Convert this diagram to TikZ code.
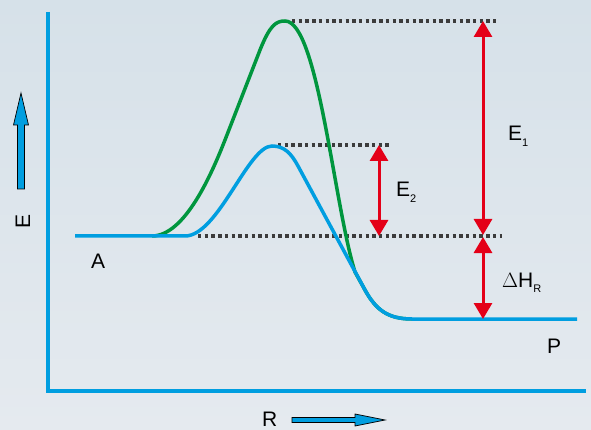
\documentclass[tikz,border=0pt]{standalone}
\usepackage{fontspec}
\setmainfont{Liberation Sans}
\usetikzlibrary{arrows.meta}
\definecolor{axisblue}{RGB}{0,158,224}
\definecolor{hillgreen}{RGB}{0,150,62}
\definecolor{gapred}{RGB}{228,0,24}
\definecolor{dotgray}{RGB}{60,60,60}
\newcommand{\lowidx}[1]{\raisebox{-0.5ex}{\fontsize{11}{11}\selectfont #1}}

\begin{document}
\begin{tikzpicture}[x=1pt, y=-1pt, every node/.style={font=\fontsize{21}{25}\selectfont, inner sep=0pt},
	level/.style={dotgray, line width=3.5pt, dash pattern=on 3.4pt off 3.3pt},
	gap/.style={gapred, line width=3pt, {Triangle[length=16pt,width=18pt]}-{Triangle[length=16pt,width=18pt]}},
	fat/.style={fill=axisblue, draw=black, line width=0.7pt, line join=miter}]
	\shade[top color={rgb,255:red,214;green,225;blue,233}, bottom color={rgb,255:red,229;green,234;blue,239}] (0,0) rectangle (591,430);
	\useasboundingbox (0,0) rectangle (591,430);
	% axes
	\coordinate (yend) at (48,12); \coordinate (origin) at (48,391); \coordinate (xend) at (586,391);
	\draw[axisblue, line width=3.2pt] (yend) -- (origin) -- (xend);
	\node[rotate=90] (lblE) at (23,221) {E};
	\draw[fat] (21,93) -- (28.5,125) -- (24.5,125) -- (24.5,189) -- (17.5,189) -- (17.5,125) -- (13.5,125) -- cycle;
	\node[anchor=base west] (lblR) at (262,426) {R};
	\draw[fat] (385,420) -- (355,414) -- (355,417.5) -- (292,417.5) -- (292,422.5) -- (355,422.5) -- (355,426) -- cycle;
	% levels
	\coordinate (topL) at (292,21); \coordinate (topR) at (498,21);
	\coordinate (midL) at (278,145); \coordinate (midR) at (391,145);
	\coordinate (baseL) at (198,236); \coordinate (baseR) at (502,236);
	\foreach \a/\b in {topL/topR, midL/midR, baseL/baseR} {\draw[level] (\a) -- (\b);}
	% reaction paths
	\draw[hillgreen, line width=3.5pt] (152,236) .. controls (185,236) and (212,173) .. (225,140) -- (260,50) .. controls (270,25) and (276,21) .. (285,21) .. controls (318,21) and (334,205) .. (355,272) -- (365,290) .. controls (376,310) and (388,319) .. (412,319);
	\draw[axisblue, line width=3.5pt] (75,236) -- (185,236) .. controls (218,236) and (248,146) .. (272,146) .. controls (284,146) and (291,153) .. (298,166) -- (365,290) .. controls (376,310) and (388,319) .. (412,319) -- (577,319);
	% energy gaps
	\coordinate (e1top) at (483,21); \coordinate (e1bot) at (483,235);
	\coordinate (hrtop) at (483,237); \coordinate (hrbot) at (483,319);
	\coordinate (e2top) at (379,145); \coordinate (e2bot) at (379,236);
	\draw[gap] (e1top) -- (e1bot);
	\draw[gap] (hrtop) -- (hrbot);
	\draw[gap] (e2top) -- (e2bot);
	\node[anchor=base west] (lblE1) at (508,141) {E\lowidx{1}};
	\node[anchor=base west] (lblE2) at (396,197) {E\lowidx{2}};
	\node[anchor=base west] (lblHR) at (502,287) {$\Delta$H\lowidx{R}};
	\node[anchor=base west] (lblA) at (91,269) {A};
	\node[anchor=base west] (lblP) at (547,353) {P};
\end{tikzpicture}
\end{document}
